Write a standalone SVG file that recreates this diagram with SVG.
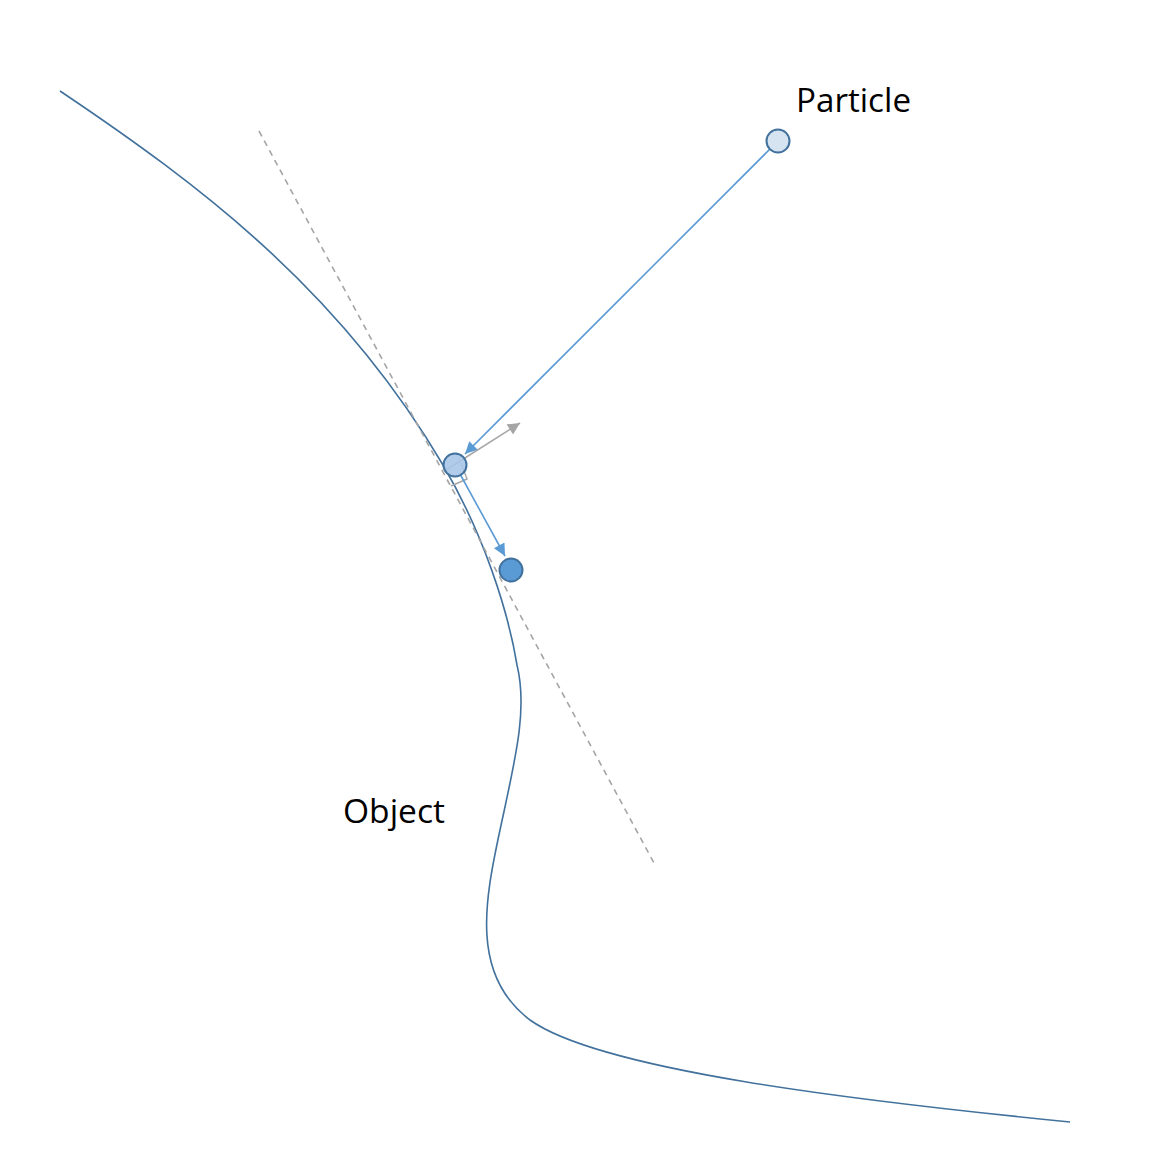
<svg xmlns="http://www.w3.org/2000/svg" width="1158" height="1166" viewBox="0 0 1158 1166">
<style>
.lbl{font-family:"Open Sans","Liberation Sans",sans-serif;font-size:32px;fill:#000}
.pt{stroke:#41719C;stroke-width:2}
</style>
<defs>
<marker id="blue" viewBox="0 0 10 10" refX="10" refY="5" markerWidth="14" markerHeight="12" orient="auto" markerUnits="userSpaceOnUse"><path d="M0,0L10,5L0,10z" fill="#5B9BD5"/></marker>
<marker id="gray" viewBox="0 0 10 10" refX="10" refY="5" markerWidth="14" markerHeight="12" orient="auto" markerUnits="userSpaceOnUse"><path d="M0,0L10,5L0,10z" fill="#A5A5A5"/></marker>
</defs>
<rect width="1158" height="1166" fill="#fff"/>
<g id="object">
<path d="M60,91 C200,185 340,290 443,465 C483,533 508,610 517,665 C528,710 515,760 500,830 C485,900 470,975 530,1020 C600,1070 850,1100 1070,1122" fill="none" stroke="#41719C" stroke-width="1.6"/>
<text class="lbl" x="343" y="823" textLength="102" lengthAdjust="spacingAndGlyphs">Object</text>
</g>
<g id="connectors">
<line x1="259" y1="131" x2="654" y2="863" stroke="#A5A5A5" stroke-width="1.6" stroke-dasharray="6,5"/>
<line x1="778" y1="141" x2="465" y2="454" stroke="#5B9BD5" stroke-width="1.6" marker-end="url(#blue)"/>
<line x1="446" y1="470" x2="520" y2="423" stroke="#A5A5A5" stroke-width="1.6" marker-end="url(#gray)"/>
<path d="M461,463 L467,479 L451,486" fill="none" stroke="#A5A5A5" stroke-width="1.4"/>
<line x1="460" y1="474" x2="505" y2="556" stroke="#5B9BD5" stroke-width="1.6" marker-end="url(#blue)"/>
</g>
<g id="particle">
<circle class="pt" cx="778" cy="141" r="11.5" fill="#D6E4F2"/>
<text class="lbl" x="796" y="112" textLength="115" lengthAdjust="spacingAndGlyphs">Particle</text>
</g>
<g id="contact">
<circle class="pt" cx="455" cy="465" r="11.5" fill="#A9C5E8" fill-opacity="0.9"/>
</g>
<g id="result">
<circle class="pt" cx="511" cy="570" r="11.5" fill="#5B9BD5"/>
</g>
</svg>
